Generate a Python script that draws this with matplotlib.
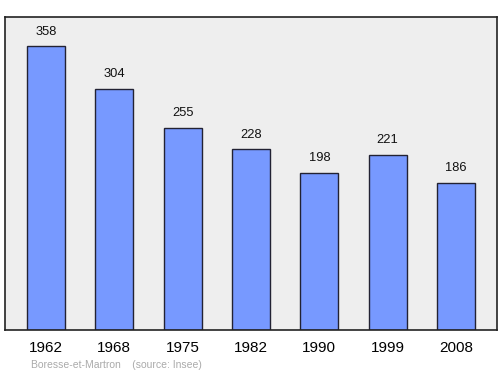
import matplotlib
matplotlib.use("Agg")
import matplotlib.pyplot as plt

years = ["1962", "1968", "1975", "1982", "1990", "1999", "2008"]
population = [358, 304, 255, 228, 198, 221, 186]

plt.rcParams['font.family'] = ['Liberation Sans', 'DejaVu Sans']

fig = plt.figure(figsize=(5.0, 3.74), dpi=100)
ax = fig.add_axes([5/500, 1 - 330/374, 492/500, 313/374])
ax.set_facecolor('#eeeeee')
x = list(range(len(years)))
ax.bar(x, population, width=0.56, color='#7799ff', edgecolor='#222233', linewidth=1.0, zorder=2)
for xi, v in zip(x, population):
    ax.text(xi, v + 11, str(v), ha='center', va='bottom', fontsize=9.3, color='#111111')
ax.set_xlim(-0.6, 6.6)
ax.set_ylim(0, 395)
ax.set_yticks([])
ax.set_xticks(x)
ax.set_xticklabels(years, fontsize=11)
ax.tick_params(axis='x', length=0, pad=8)
for s in ax.spines.values():
    s.set_linewidth(1.2)
    s.set_color('#222222')
fig.text(31/500, 1 - 365/374, "Boresse-et-Martron    (source: Insee)", fontsize=7.5, color='#aaaaaa', va='center', ha='left')
fig.savefig("out.png", dpi=100)
